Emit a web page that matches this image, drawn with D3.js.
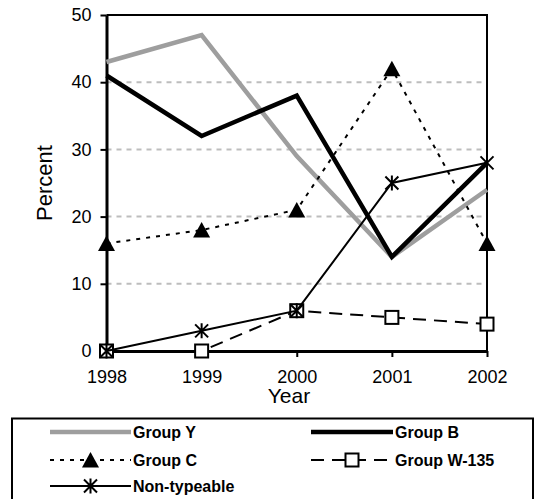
<!DOCTYPE html>
<html>
<head>
<meta charset="utf-8">
<script src="https://cdn.jsdelivr.net/npm/d3@7"></script>
<style>
  body { margin: 0; background: #fff; }
  svg { display: block; font-family: "Liberation Sans", Arial, sans-serif; }
</style>
</head>
<body>
<svg id="chart" width="536" height="499"></svg>
<script>
// data
var years = [1998, 1999, 2000, 2001, 2002];
var yTicks = [0, 10, 20, 30, 40, 50];
var groupY = [43, 47, 29, 14, 24];
var groupB = [41, 32, 38, 14, 28];
var groupC = [16, 18, 21, 42, 16];
var groupW135 = [0, 0, 6, 5, 4];
var nonTypeable = [0, 3, 6, 25, 28];

var seriesNames = ["Group Y", "Group B", "Group C", "Group W-135", "Non-typeable"];

var svg = d3.select("#chart");
var plotLeft = 106.5, plotRight = 487, plotTop = 15, plotBottom = 351;

var x = d3.scaleLinear().domain([1998, 2002]).range([plotLeft, plotRight]);
var y = d3.scaleLinear().domain([0, 50]).range([plotBottom, plotTop]);

// grid lines
svg.append("g").selectAll("line")
  .data(yTicks.filter(function(d){ return d > 0 && d < 50; }))
  .join("line")
  .attr("x1", plotLeft).attr("x2", plotRight)
  .attr("y1", function(d){ return y(d); }).attr("y2", function(d){ return y(d); })
  .attr("stroke", "#bdbdbd").attr("stroke-width", 2)
  .attr("stroke-dasharray", "5,5");

// top + right border
svg.append("path")
  .attr("d", "M" + plotLeft + "," + y(50) + "H" + x(2002) + "V" + y(0))
  .attr("fill", "none").attr("stroke", "#000").attr("stroke-width", 2);

// axes
var yAxis = svg.append("g")
  .attr("transform", "translate(" + plotLeft + ",0)")
  .call(d3.axisLeft(y).tickValues(yTicks).tickSize(6).tickSizeOuter(0).tickPadding(9));
var xAxis = svg.append("g")
  .attr("transform", "translate(0," + plotBottom + ")")
  .call(d3.axisBottom(x).tickValues(years).tickFormat(d3.format("d")).tickSize(6).tickSizeOuter(0).tickPadding(13));

[yAxis, xAxis].forEach(function(a){
  a.select(".domain").attr("stroke", "#000").attr("stroke-width", 3);
  a.selectAll(".tick line").attr("stroke", "#000").attr("stroke-width", 2);
  a.selectAll(".tick text").attr("fill", "#000").style("font-size", "18px").style("font-family", "Liberation Sans, Arial, sans-serif");
});

// axis titles
svg.append("text")
  .attr("transform", "translate(51.5,183) rotate(-90)")
  .attr("text-anchor", "middle")
  .style("font-size", "22px")
  .text("Percent");
svg.append("text")
  .attr("x", 289).attr("y", 403)
  .attr("text-anchor", "middle")
  .style("font-size", "21px")
  .text("Year");

// markers
function triangle(g, cx, cy) {
  g.append("path")
    .attr("d", "M" + cx + "," + (cy - 8) + "L" + (cx + 8.5) + "," + (cy + 7.5) + "L" + (cx - 8.5) + "," + (cy + 7.5) + "Z")
    .attr("fill", "#000");
}
function square(g, cx, cy) {
  g.append("rect")
    .attr("x", cx - 6.5).attr("y", cy - 6.5).attr("width", 13).attr("height", 13)
    .attr("fill", "#fff").attr("stroke", "#000").attr("stroke-width", 2);
}
function star(g, cx, cy) {
  var r = 6.5;
  g.append("path")
    .attr("d", "M" + (cx - r) + "," + (cy - r) + "L" + (cx + r) + "," + (cy + r) +
               "M" + (cx + r) + "," + (cy - r) + "L" + (cx - r) + "," + (cy + r) +
               "M" + cx + "," + (cy - r - 1) + "L" + cx + "," + (cy + r + 1))
    .attr("stroke", "#000").attr("stroke-width", 2).attr("fill", "none");
}

var line = d3.line()
  .x(function(d, i){ return x(years[i]); })
  .y(function(d){ return y(d); });

var series = [
  { name: seriesNames[0], values: groupY, color: "#9e9e9e", width: 4.5, dash: null, marker: null },
  { name: seriesNames[1], values: groupB, color: "#000", width: 4.5, dash: null, marker: null },
  { name: seriesNames[2], values: groupC, color: "#000", width: 2, dash: "4,6", marker: triangle },
  { name: seriesNames[3], values: groupW135, color: "#000", width: 2, dash: "13,8", marker: square },
  { name: seriesNames[4], values: nonTypeable, color: "#000", width: 2, dash: null, marker: star }
];

var plot = svg.append("g");
series.forEach(function(s){
  var g = plot.append("g");
  g.append("path")
    .attr("d", line(s.values))
    .attr("fill", "none")
    .attr("stroke", s.color)
    .attr("stroke-width", s.width)
    .attr("stroke-linejoin", "miter")
    .attr("stroke-dasharray", s.dash);
  if (s.marker) {
    s.values.forEach(function(v, i){ s.marker(g, x(years[i]), y(v)); });
  }
});

// legend
var legend = svg.append("g");
legend.append("rect")
  .attr("x", 12).attr("y", 418.5).attr("width", 521).attr("height", 95)
  .attr("fill", "#fff").attr("stroke", "#000").attr("stroke-width", 2);

var legendPos = [
  { x1: 50, x2: 131, y: 432 },
  { x1: 311, x2: 393, y: 432 },
  { x1: 50, x2: 131, y: 460 },
  { x1: 311, x2: 393, y: 460 },
  { x1: 50, x2: 131, y: 486 }
];
series.forEach(function(s, i){
  var p = legendPos[i];
  var g = legend.append("g");
  g.append("line")
    .attr("x1", p.x1).attr("x2", p.x2).attr("y1", p.y).attr("y2", p.y)
    .attr("stroke", s.color).attr("stroke-width", s.width)
    .attr("stroke-dasharray", s.dash);
  if (s.marker) s.marker(g, (p.x1 + p.x2) / 2, p.y);
  g.append("text")
    .attr("x", p.x2 + 2).attr("y", p.y).attr("dy", "0.36em")
    .style("font-size", "16px").style("font-weight", "bold")
    .text(s.name);
});
</script>
</body>
</html>
